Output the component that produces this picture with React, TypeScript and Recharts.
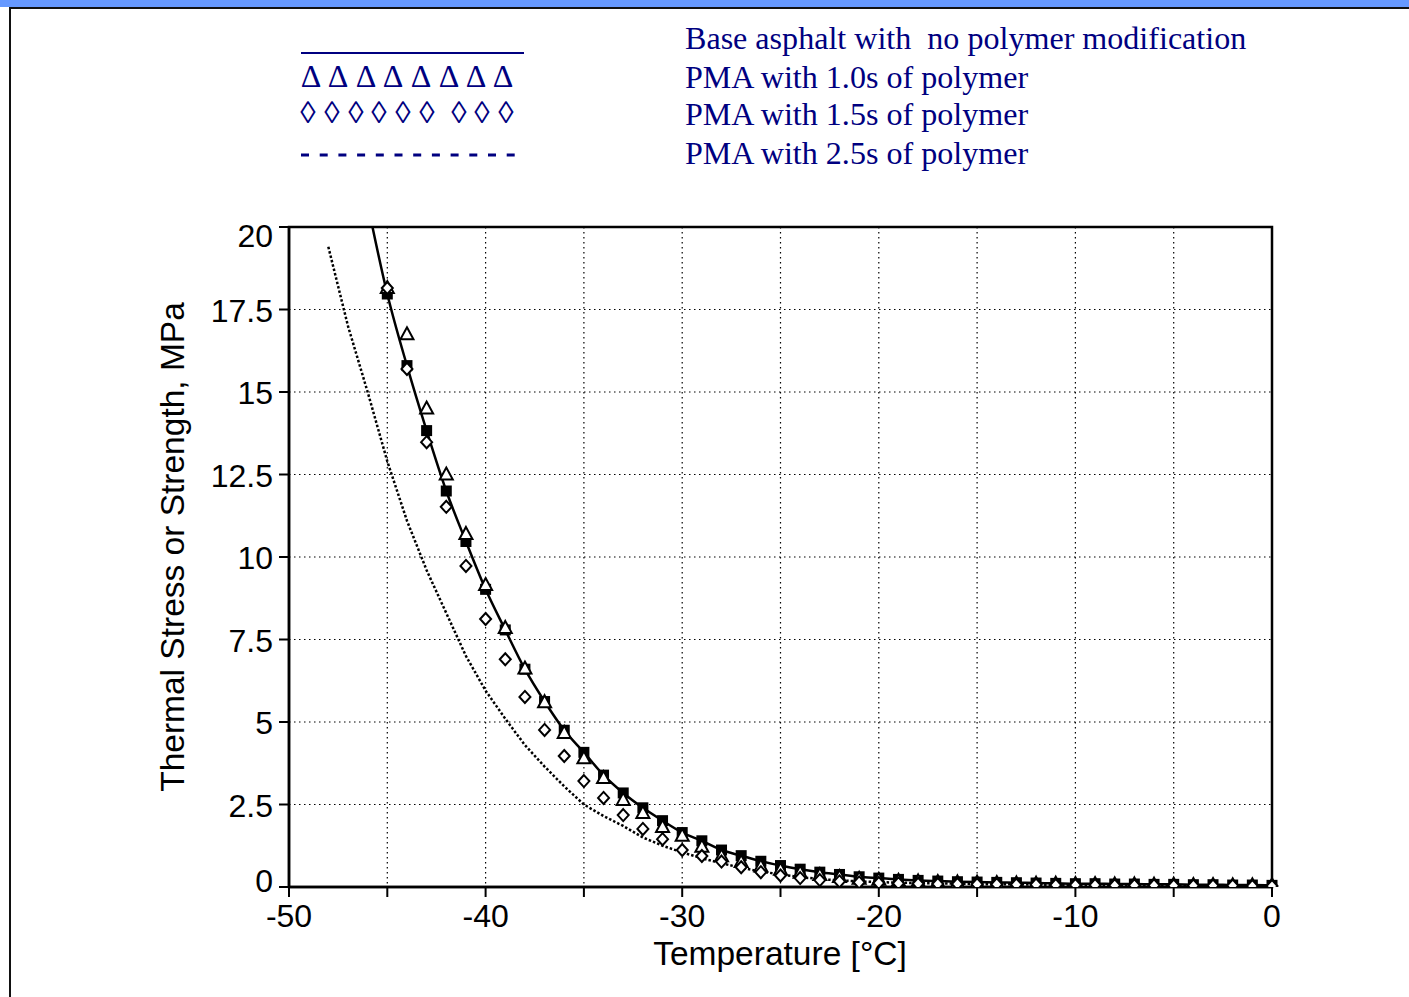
import React from 'react';
import {
  ComposedChart,
  Line,
  XAxis,
  YAxis,
  CartesianGrid,
  ReferenceArea
} from 'recharts';

// temperature steps, °C
const temps = [
  -48, -47, -46, -45, -44, -43, -42, -41, -40, -39, -38, -37, -36, -35, -34, -33, -32,
  -31, -30, -29, -28, -27, -26, -25, -24, -23, -22, -21, -20, -19, -18, -17, -16, -15,
  -14, -13, -12, -11, -10, -9, -8, -7, -6, -5, -4, -3, -2, -1, 0
];

// base asphalt (solid line + filled squares)
const baseAsphalt = [
  null, null, 20.7, 17.97, 15.8, 13.83, 12.0, 10.47, 9.02, 7.79, 6.6, 5.62, 4.75, 4.08, 3.39, 2.85, 2.4,
  2.01, 1.65, 1.4, 1.12, 0.95, 0.78, 0.65, 0.54, 0.45, 0.38, 0.31, 0.27, 0.23, 0.2, 0.18, 0.16, 0.15,
  0.14, 0.13, 0.12, 0.11, 0.1, 0.1, 0.09, 0.09, 0.08, 0.08, 0.07, 0.07, 0.06, 0.06, 0.05
];

// PMA 1.0s (triangles)
const pma10 = [
  null, null, null, 18.15, 16.75, 14.5, 12.5, 10.7, 9.15, 7.85, 6.62, 5.6, 4.67, 3.9, 3.3, 2.64, 2.24,
  1.82, 1.55, 1.22, 0.93, 0.76, 0.62, 0.52, 0.43, 0.36, 0.3, 0.25, 0.22, 0.19, 0.17, 0.15, 0.14, 0.13,
  0.12, 0.11, 0.1, 0.1, 0.09, 0.09, 0.08, 0.08, 0.07, 0.07, 0.06, 0.06, 0.05, 0.05, 0.05
];

// PMA 1.5s (diamonds)
const pma15 = [
  null, null, null, 18.15, 15.7, 13.48, 11.52, 9.73, 8.12, 6.9, 5.76, 4.76, 3.97, 3.21, 2.7, 2.18, 1.76,
  1.45, 1.12, 0.94, 0.77, 0.6, 0.45, 0.35, 0.27, 0.21, 0.17, 0.14, 0.12, 0.11, 0.1, 0.09, 0.09, 0.08,
  0.08, 0.07, 0.07, 0.06, 0.06, 0.06, 0.05, 0.05, 0.05, 0.04, 0.04, 0.04, 0.04, 0.03, 0.03
];

// PMA 2.5s (dotted line)
const pma25 = [
  19.4, 17.0, 15.0, 12.9, 11.1, 9.6, 8.3, 7.0, 5.95, 5.1, 4.3, 3.65, 3.05, 2.5, 2.15, 1.85, 1.5,
  1.25, 1.05, 0.87, 0.72, 0.58, 0.47, 0.38, 0.3, 0.24, 0.2, 0.17, 0.15, 0.13, 0.12, 0.11, 0.1, 0.09,
  0.08, 0.08, 0.07, 0.07, 0.06, 0.06, 0.05, 0.05, 0.05, 0.04, 0.04, 0.04, 0.03, 0.03, 0.03
];

const xTicks = [-50, -45, -40, -35, -30, -25, -20, -15, -10, -5, 0];
const yTicks = [0, 2.5, 5, 7.5, 10, 12.5, 15, 17.5, 20];

const legendLabels = [
  'Base asphalt with  no polymer modification',
  'PMA with 1.0s of polymer',
  'PMA with 1.5s of polymer',
  'PMA with 2.5s of polymer'
];

const data = temps.map((t, i) => ({
  t,
  base: baseAsphalt[i],
  pma10: pma10[i],
  pma15: pma15[i],
  pma25: pma25[i]
}));

const NAVY = '#000080';
const SANS = '"Liberation Sans", Arial, sans-serif';
const SERIF = '"Liberation Serif", "Times New Roman", serif';

const Square = (props: any) => {
  const { cx, cy, payload, index } = props;
  if (cx == null || cy == null || payload?.t < -45) return <g key={`sq-${index}`} />;
  return <rect key={`sq-${index}`} x={cx - 5.5} y={cy - 5.5} width={11} height={11} fill="#000" />;
};

const Triangle = (props: any) => {
  const { cx, cy, index } = props;
  if (cx == null || cy == null) return <g key={`tr-${index}`} />;
  return (
    <path
      key={`tr-${index}`}
      d={`M${cx},${cy - 7} L${cx + 6.5},${cy + 5} L${cx - 6.5},${cy + 5} Z`}
      fill="#fff"
      stroke="#000"
      strokeWidth={2}
    />
  );
};

const Diamond = (props: any) => {
  const { cx, cy, index } = props;
  if (cx == null || cy == null) return <g key={`di-${index}`} />;
  return (
    <path
      key={`di-${index}`}
      d={`M${cx},${cy - 6} L${cx + 5.5},${cy} L${cx},${cy + 6} L${cx - 5.5},${cy} Z`}
      fill="#fff"
      stroke="#000"
      strokeWidth={2}
    />
  );
};

// y tick labels: end ones are nudged inwards like in the original
const YTick = (props: any) => {
  const { x, y, payload } = props;
  const v = payload.value;
  const dy = v === 20 ? 9 : v === 0 ? -6 : 1;
  return (
    <text x={x} y={y + dy} dy="0.355em" textAnchor="end" fill="#000" fontSize={32} fontFamily={SANS}>
      {String(v)}
    </text>
  );
};

const triCenters = [311, 338, 366, 393, 421, 449, 476, 503];
const diaCenters = [308, 332, 356, 379, 403, 427, 459, 482, 506];

export default function App() {
  return (
    <div style={{ position: 'absolute', left: 0, top: 0, width: 1409, height: 997, background: '#fff', overflow: 'hidden' }}>
      {/* page frame */}
      <div style={{ position: 'absolute', left: 0, top: 0, width: 1409, height: 7, background: '#6699ff' }} />
      <div style={{ position: 'absolute', left: 9, top: 7, width: 1400, height: 2, background: '#111' }} />
      <div style={{ position: 'absolute', left: 9, top: 7, width: 2, height: 990, background: '#111' }} />

      {/* legend */}
      <div style={{ position: 'absolute', left: 301, top: 52, width: 223, height: 2, background: NAVY }} />
      {triCenters.map((x, i) => (
        <span key={`lt-${i}`} style={{ position: 'absolute', left: x - 15, top: 60, width: 30, textAlign: 'center', fontFamily: SERIF, fontSize: 32, lineHeight: '32px', color: NAVY }}>Δ</span>
      ))}
      {diaCenters.map((x, i) => (
        <span key={`ld-${i}`} style={{ position: 'absolute', left: x - 15, top: 97, width: 30, textAlign: 'center', fontFamily: SERIF, fontSize: 31, lineHeight: '32px', color: NAVY }}>◊</span>
      ))}
      <svg style={{ position: 'absolute', left: 300, top: 150 }} width={220} height={10}>
        <line x1={1} y1={5} x2={218} y2={5} stroke={NAVY} strokeWidth={3} strokeDasharray="8 10.7" />
      </svg>
      {legendLabels.map((s, i) => (
        <div key={`ll-${i}`} style={{ position: 'absolute', left: 685, top: [22, 61, 98, 137][i], fontFamily: SERIF, fontSize: 32.1, lineHeight: '32px', color: NAVY, whiteSpace: 'pre' }}>{s}</div>
      ))}

      {/* axis titles */}
      <div style={{ position: 'absolute', left: 580, width: 400, top: 934, textAlign: 'center', fontFamily: SANS, fontSize: 33.5, lineHeight: '40px', color: '#000' }}>
        Temperature [°C]
      </div>
      <div style={{ position: 'absolute', left: 173 - 300, width: 600, top: 547 - 20, textAlign: 'center', fontFamily: SANS, fontSize: 33.5, lineHeight: '40px', color: '#000', transform: 'rotate(-90deg)', whiteSpace: 'nowrap' }}>
        Thermal Stress or Strength, MPa
      </div>

      <div style={{ position: 'absolute', left: 0, top: 0 }}>
        <ComposedChart width={1409} height={997} data={data} margin={{ top: 227, right: 137, bottom: 50, left: 189 }}>
          <CartesianGrid stroke="#000" strokeWidth={1.2} strokeDasharray="1.5 3.5" />
          <XAxis
            type="number"
            dataKey="t"
            domain={[-50, 0]}
            ticks={xTicks}
            interval={0}
            height={60}
            tickSize={10}
            tickMargin={7}
            tickFormatter={(v: number) => (v % 10 === 0 ? String(v) : '')}
            axisLine={{ stroke: '#000', strokeWidth: 2.5 }}
            tickLine={{ stroke: '#000', strokeWidth: 2 }}
            tick={{ fill: '#000', fontSize: 32, fontFamily: SANS }}
          />
          <YAxis
            type="number"
            domain={[0, 20]}
            ticks={yTicks}
            interval={0}
            allowDataOverflow
            width={100}
            tickSize={10}
            tickMargin={6}
            axisLine={{ stroke: '#000', strokeWidth: 2.5 }}
            tickLine={{ stroke: '#000', strokeWidth: 2 }}
            tick={<YTick />}
          />
          <Line type="linear" dataKey="pma25" stroke="#000" strokeWidth={2.5} strokeDasharray="2.5 2" dot={false} activeDot={false} isAnimationActive={false} />
          <Line type="monotone" dataKey="base" stroke="#000" strokeWidth={2.5} dot={Square} activeDot={false} isAnimationActive={false} />
          <Line type="linear" dataKey="pma10" stroke="none" dot={Triangle} activeDot={false} isAnimationActive={false} />
          <Line type="linear" dataKey="pma15" stroke="none" dot={Diamond} activeDot={false} isAnimationActive={false} />
          <ReferenceArea x1={-50} x2={0} y1={0} y2={20} fill="none" fillOpacity={0} stroke="#000" strokeWidth={2.5} ifOverflow="visible" />
        </ComposedChart>
      </div>
    </div>
  );
}
